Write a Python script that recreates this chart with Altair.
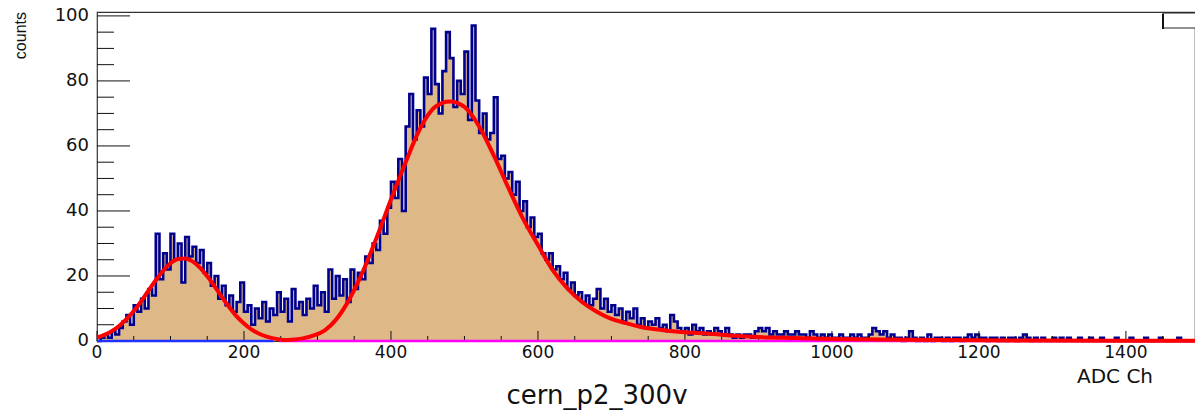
import altair as alt
import pandas as pd

# ---------------- data ----------------
BIN_WIDTH = 5  # ADC channels per histogram bin
X_MAX = 1494

counts = [
    0, 1, 2, 1, 3, 2, 4, 6, 8, 5,            # 0-50
    11, 9, 13, 10, 16, 14, 33, 19, 27, 22,   # 50-100
    33, 25, 30, 18, 32, 26, 29, 24, 28, 21,  # 100-150
    24, 17, 20, 13, 17, 11, 14, 9, 12, 18,   # 150-200
    9, 11, 5, 10, 7, 12, 6, 10, 8, 15,       # 200-250
    9, 13, 6, 16, 10, 12, 8, 13, 10, 17,     # 250-300
    11, 15, 9, 22, 13, 20, 14, 19, 12, 22,   # 300-350
    16, 21, 19, 26, 24, 30, 28, 37, 33, 41,  # 350-400
    49, 44, 56, 40, 66, 76, 62, 71, 66, 81,  # 400-450
    76, 96, 79, 70, 83, 95, 87, 72, 80, 76,  # 450-500
    89, 68, 97, 74, 64, 70, 62, 64, 75, 56,  # 500-550
    57, 50, 52, 45, 49, 40, 43, 35, 38, 32,  # 550-600
    33, 27, 25, 27, 22, 23, 19, 21, 16, 18,  # 600-650
    14, 15, 12, 14, 11, 13, 16, 10, 13, 9,   # 650-700
    11, 8, 10, 6, 9, 7, 10, 5, 7, 4,         # 700-750
    6, 5, 7, 4, 5, 3, 8, 6, 4, 3,            # 750-800
    4, 2, 5, 3, 4, 2, 3, 2, 4, 3,            # 800-850
    2, 4, 2, 1, 2, 1, 2, 2, 1, 3,            # 850-900
    4, 3, 4, 2, 3, 2, 2, 3, 2, 2,            # 900-950
    3, 2, 2, 1, 3, 2, 1, 2, 1, 2,            # 950-1000
    1, 1, 2, 1, 1, 2, 1, 2, 1, 1,            # 1000-1050
    2, 4, 3, 2, 3, 1, 2, 1, 1, 0,            # 1050-1100
    1, 3, 1, 0, 1, 0, 2, 0, 1, 1,            # 1100-1150
    0, 1, 0, 1, 1, 0, 1, 2, 1, 2,            # 1150-1200
    1, 1, 0, 1, 1, 0, 1, 0, 1, 1,            # 1200-1250
    0, 1, 2, 1, 0, 1, 0, 1, 0, 0,            # 1250-1300
    1, 0, 1, 0, 1, 0, 0, 1, 0, 0,            # 1300-1350
    1, 0, 0, 1, 0, 0, 0, 1, 0, 0,            # 1350-1400
    0, 1, 0, 0, 0, 1, 0, 0, 0, 1,            # 1400-1450
    0, 0, 0, 0, 1, 0, 0, 0, 0,               # 1450-1495
]

# fit curve, first peak
fit1_x = [0, 10, 20, 30, 40, 50, 60, 70, 80, 90, 100, 110, 120, 130, 140,
          150, 160, 170, 180, 190, 200, 210, 220, 230, 240, 250]
fit1_y = [1.1, 1.9, 3.0, 4.6, 6.7, 9.2, 12.2, 15.5, 18.7, 21.6, 23.9, 25.2,
          25.4, 24.5, 22.6, 19.9, 16.8, 13.5, 10.4, 7.6, 5.4, 3.6, 2.3, 1.4,
          0.8, 0.4]
# fit curve, second peak with tail
fit2_x = [250, 265, 280, 295, 310, 325, 340, 360, 380, 400, 420, 440, 460,
          480, 500, 520, 540, 560, 580, 600, 620, 640, 660, 680, 700, 720,
          740, 760, 780, 800, 830, 870, 900, 950, 1000, 1100, 1200, 1300,
          1400, 1494]
fit2_y = [0.3, 0.4, 0.8, 1.7, 3.3, 6.5, 11.5, 20.5, 31.5, 43.5, 55, 65.5, 72,
          73.7, 72, 66, 57, 47, 37.5, 29.5, 21.8, 16.2, 12, 9.0, 6.8, 5.5,
          4.3, 3.6, 3.1, 2.7, 2.3, 1.6, 1.2, 0.9, 0.65, 0.35, 0.2, 0.12,
          0.08, 0.05]

# range of the two baseline function segments
blue_range = [0, 240]
magenta_range = [248, X_MAX]

x_major = [0, 200, 400, 600, 800, 1000, 1200, 1400]
x_minor = [v for v in range(50, 1500, 50) if v % 200 != 0]
y_major = [0, 20, 40, 60, 80, 100]
y_minor = [v for v in range(5, 100, 5) if v % 20 != 0]

title_text = "cern_p2_300v"
x_title = "ADC Ch"
y_title = "counts"

# ---------------- build ----------------
W, H = 1098, 329
edges = [i * BIN_WIDTH for i in range(len(counts))] + [len(counts) * BIN_WIDTH]
hist = pd.DataFrame({"x": edges, "count": counts + [counts[-1]]})
fit1 = pd.DataFrame({"x": fit1_x, "y": fit1_y})
fit2 = pd.DataFrame({"x": fit2_x, "y": fit2_y})

x_scale = alt.Scale(domain=[0, X_MAX], nice=False, zero=False)
y_scale = alt.Scale(domain=[0, 101.2], nice=False)

LABEL_FONT = "DejaVu Sans"
TXT = "#111111"


def X(field):
    return alt.X(field, scale=x_scale, axis=None)


def Y(field):
    return alt.Y(field, scale=y_scale, axis=None)


area = alt.Chart(hist).mark_area(
    interpolate="step-after", color="#DEB887"
).encode(x=X("x:Q"), y=Y("count:Q"))

outline = alt.Chart(hist).mark_line(
    interpolate="step-after", color="#00008F", strokeWidth=2.6
).encode(x=X("x:Q"), y=Y("count:Q"))

base_df = pd.DataFrame({
    "x": [blue_range[0], magenta_range[0]],
    "x2": [blue_range[1], magenta_range[1]],
    "y": [0, 0],
    "seg": ["a", "b"],
})
baselines = alt.Chart(base_df).mark_rule(strokeWidth=2.5).encode(
    x=X("x:Q"), x2="x2:Q", y=Y("y:Q"),
    color=alt.Color("seg:N", scale=alt.Scale(domain=["a", "b"],
                                             range=["#2030FF", "#FF00FF"]),
                    legend=None),
)


def yticks(vals, length):
    return alt.Chart(pd.DataFrame({"v": vals})).mark_rule(
        color=TXT, strokeWidth=1).encode(
        y=Y("v:Q"), x=alt.value(0), x2=alt.value(length))


def xticks(vals, length):
    return alt.Chart(pd.DataFrame({"v": vals})).mark_rule(
        color=TXT, strokeWidth=1).encode(
        x=X("v:Q"), y=alt.value(H), y2=alt.value(H - length))


ylabels = alt.Chart(pd.DataFrame({"v": y_major})).mark_text(
    align="right", baseline="middle", font=LABEL_FONT, fontSize=18, color=TXT
).encode(y=Y("v:Q"), x=alt.value(-8), text=alt.Text("v:Q", format="d"))

xlabels = alt.Chart(pd.DataFrame({"v": x_major})).mark_text(
    align="center", baseline="top", font=LABEL_FONT, fontSize=17, color=TXT
).encode(x=X("v:Q"), y=alt.value(H + 4), text=alt.Text("v:Q", format="d"))

red1 = alt.Chart(fit1).mark_line(
    color="#FF0000", strokeWidth=4, interpolate="monotone"
).encode(x=X("x:Q"), y=Y("y:Q"))
red2 = alt.Chart(fit2).mark_line(
    color="#FF0000", strokeWidth=4, interpolate="monotone"
).encode(x=X("x:Q"), y=Y("y:Q"))

one = pd.DataFrame({"a": [0]})

ylab = alt.Chart(pd.DataFrame({"t": [y_title]})).mark_text(
    angle=270, align="right", baseline="middle",
    font="Liberation Sans", fontSize=16, color=TXT
).encode(text="t:N", x=alt.value(-76), y=alt.value(0),
         size=alt.value(16))

xlab = alt.Chart(pd.DataFrame({"t": [x_title]})).mark_text(
    align="left", baseline="alphabetic", font=LABEL_FONT, fontSize=20,
    color=TXT
).encode(text="t:N", x=alt.value(980), y=alt.value(371))

title = alt.Chart(pd.DataFrame({"t": [title_text]})).mark_text(
    align="center", baseline="alphabetic", font=LABEL_FONT, fontSize=26,
    color=TXT
).encode(text="t:N", x=alt.value(500), y=alt.value(392))

stats_box = alt.Chart(one).mark_rect(
    fill="white", stroke="#222", strokeWidth=1
).encode(x=alt.value(1066), x2=alt.value(1110),
         y=alt.value(1), y2=alt.value(16))
stats_shadow = alt.Chart(one).mark_rule(
    color="#111", strokeWidth=2
).encode(x=alt.value(1066), y=alt.value(2), y2=alt.value(17))

chart = alt.layer(
    area, outline,
    yticks(y_minor, 17), yticks(y_major, 33),
    xticks(x_minor, 5), xticks(x_major, 10),
    baselines, red1, red2,
    stats_box, stats_shadow,
    ylabels, xlabels,
    ylab, xlab, title,
).properties(
    width=W, height=H,
    padding={"left": 97, "top": 12, "right": 0, "bottom": 71},
    autosize=alt.AutoSizeParams(type="none"),
    background="white",
).configure_view(stroke="#333", strokeWidth=1.2)

chart.save("out.html", embed_options={"renderer": "svg", "actions": False})
